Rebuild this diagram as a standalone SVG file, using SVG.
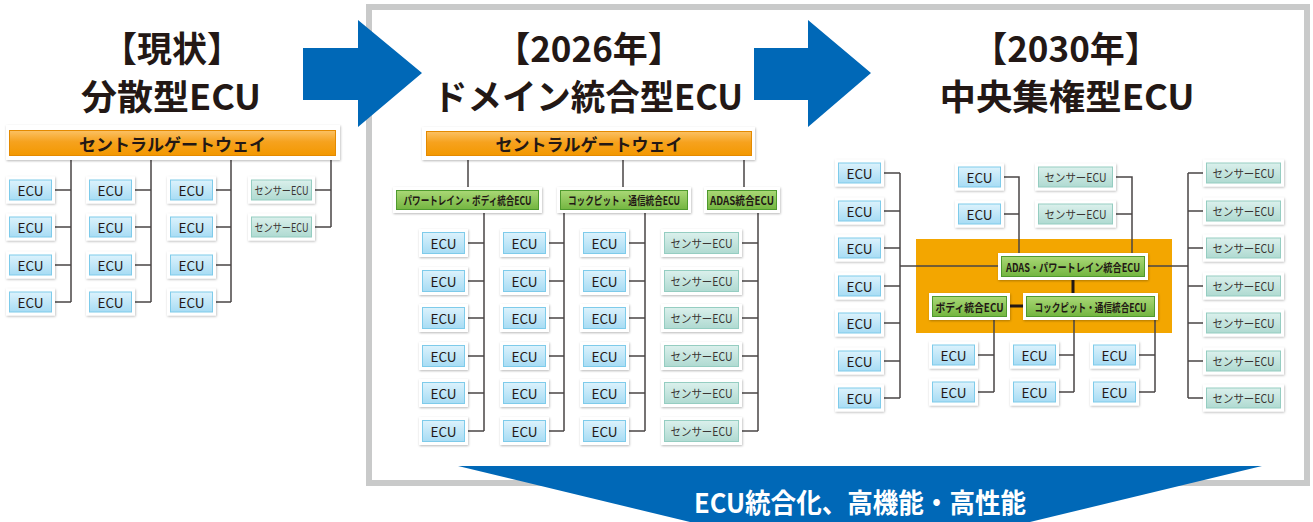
<svg xmlns="http://www.w3.org/2000/svg" width="1313" height="522" viewBox="0 0 1313 522">
<defs>
<linearGradient id="gB" x1="0" y1="0" x2="0" y2="1"><stop offset="0" stop-color="#dcf2fc"/><stop offset="1" stop-color="#a7dcf4"/></linearGradient>
<linearGradient id="gS" x1="0" y1="0" x2="0" y2="1"><stop offset="0" stop-color="#dbf0ec"/><stop offset="1" stop-color="#afdad1"/></linearGradient>
<linearGradient id="gG" x1="0" y1="0" x2="0" y2="1"><stop offset="0" stop-color="#aad876"/><stop offset="1" stop-color="#73b540"/></linearGradient>
<linearGradient id="gO" x1="0" y1="0" x2="0" y2="1"><stop offset="0" stop-color="#fbc164"/><stop offset="0.45" stop-color="#f6a21e"/><stop offset="1" stop-color="#f39800"/></linearGradient>
<filter id="sh" x="-10%" y="-25%" width="125%" height="160%"><feDropShadow dx="0.6" dy="1" stdDeviation="0.9" flood-color="#000" flood-opacity="0.28"/></filter>
</defs>
<style>
.o{fill:#fff;filter:url(#sh)}
.b{fill:url(#gB);stroke:#7ecbea;stroke-width:1}
.s{fill:url(#gS);stroke:#95cdc1;stroke-width:1}
.g{fill:url(#gG);stroke:#4f9a2e;stroke-width:1}
.or{fill:url(#gO);stroke:#e48a00;stroke-width:1}
.t{font-family:"Noto Sans CJK JP","Noto Sans",sans-serif;font-size:13.5px;fill:#231815;text-anchor:middle;dominant-baseline:central}
.ts{font-family:"Noto Sans CJK JP",sans-serif;font-size:11.5px;fill:#3a3533;text-anchor:middle;dominant-baseline:central}
.tg{font-family:"Noto Sans CJK JP",sans-serif;font-size:11.5px;font-weight:bold;fill:#231815;text-anchor:middle;dominant-baseline:central}
.tw{font-family:"Noto Sans CJK JP",sans-serif;font-size:17px;font-weight:bold;fill:#231815;text-anchor:middle;dominant-baseline:central}
.ti{font-family:"Noto Sans CJK JP",sans-serif;font-size:35px;font-weight:bold;fill:#231815;text-anchor:middle}
.ln{fill:none;stroke:#4a4546;stroke-width:1.5}
.lk{fill:none;stroke:#231815;stroke-width:3}
.ar{fill:#0068b7}
</style>

<!-- frame -->
<rect x="369" y="7" width="938" height="476" fill="#fff" stroke="#c9caca" stroke-width="6"/>

<!-- titles -->
<g id="title-now">
<text class="ti" x="172" y="62">【現状】</text>
<text class="ti" x="171" y="110" textLength="180" lengthAdjust="spacingAndGlyphs">分散型ECU</text>
</g>
<g id="title-2026">
<text class="ti" x="589" y="62">【2026年】</text>
<text class="ti" x="588" y="110" textLength="310" lengthAdjust="spacingAndGlyphs">ドメイン統合型ECU</text>
</g>
<g id="title-2030">
<text class="ti" x="1066" y="62">【2030年】</text>
<text class="ti" x="1067" y="110" textLength="255" lengthAdjust="spacingAndGlyphs">中央集権型ECU</text>
</g>

<!-- big arrows -->
<g id="arrow1"><polygon class="ar" points="303,48 358,48 358,20 422,73 358,127 358,100 303,100"/></g>
<g id="arrow2"><polygon class="ar" points="754,48 808,48 808,20 871,73 808,127 808,100 754,100"/></g>
<g id="arrow-bottom">
<polygon class="ar" points="458,466 1262,466 860,563"/>
<text x="860" y="513" font-family="Noto Sans CJK JP,sans-serif" font-size="27" font-weight="bold" fill="#fff" text-anchor="middle" textLength="332" lengthAdjust="spacingAndGlyphs">ECU統合化、高機能・高性能</text>
</g>

<!-- orange integration area -->
<rect id="r-area" x="916" y="239" width="256" height="94" fill="#f3a600"/>

<!-- connectors -->
<g id="connectors">
<!-- left -->
<path class="ln" d="M71,160V302M151,160V302M231,160V302M331,160V227"/>
<path class="ln" d="M55,190H71M55,227H71M55,265H71M55,302H71M135,190H151M135,227H151M135,265H151M135,302H151M216,190H231M216,227H231M216,265H231M216,302H231M315,190H331M315,227H331"/>
<!-- middle -->
<path class="ln" d="M468,160V187M623,160V187M744,160V187"/>
<path class="ln" d="M484,213V431M564,213V431M645,213V431M758,213V431"/>
<path class="ln" d="M468,243H484M468,281H484M468,318H484M468,356H484M468,393H484M468,431H484"/>
<path class="ln" d="M549,243H564M549,281H564M549,318H564M549,356H564M549,393H564M549,431H564"/>
<path class="ln" d="M629,243H645M629,281H645M629,318H645M629,356H645M629,393H645M629,431H645"/>
<path class="ln" d="M742,243H758M742,281H758M742,318H758M742,356H758M742,393H758M742,431H758"/>
<!-- right -->
<path class="ln" d="M900,173V398M1188,173V398M900,266H1188"/>
<path class="ln" d="M884,173H900M884,211H900M884,248H900M884,286H900M884,323H900M884,361H900M884,398H900"/>
<path class="ln" d="M1188,173H1203M1188,211H1203M1188,248H1203M1188,286H1203M1188,323H1203M1188,361H1203M1188,398H1203"/>
<path class="ln" d="M1004,177H1019V253M1004,214H1019M1116,177H1132V253M1116,214H1132"/>
<path class="ln" d="M994,320V392M978,355H994M978,392H994M1074,320V392M1059,355H1074M1059,392H1074M1155,320V392M1139,355H1155M1139,392H1155"/>
<path class="lk" d="M1073,280V293M1010,306H1023"/>
</g>

<!-- LEFT: current -->
<g id="l-gw"><rect class="o" x="6" y="125" width="334" height="35"/><rect class="or" x="9.5" y="130.5" width="326" height="25"/><text class="tw" x="172.5" y="143">セントラルゲートウェイ</text></g>

<g id="l-e11"><rect class="o" x="6" y="176.5" width="49" height="27"/><rect class="b" x="9.5" y="180" width="42" height="20"/><text class="t" x="30.5" y="190">ECU</text></g>
<g id="l-e12"><rect class="o" x="6" y="213.5" width="49" height="27"/><rect class="b" x="9.5" y="217" width="42" height="20"/><text class="t" x="30.5" y="227">ECU</text></g>
<g id="l-e13"><rect class="o" x="6" y="251.5" width="49" height="27"/><rect class="b" x="9.5" y="255" width="42" height="20"/><text class="t" x="30.5" y="265">ECU</text></g>
<g id="l-e14"><rect class="o" x="6" y="288.5" width="49" height="27"/><rect class="b" x="9.5" y="292" width="42" height="20"/><text class="t" x="30.5" y="302">ECU</text></g>

<g id="l-e21"><rect class="o" x="86" y="176.5" width="49" height="27"/><rect class="b" x="89.5" y="180" width="42" height="20"/><text class="t" x="110.5" y="190">ECU</text></g>
<g id="l-e22"><rect class="o" x="86" y="213.5" width="49" height="27"/><rect class="b" x="89.5" y="217" width="42" height="20"/><text class="t" x="110.5" y="227">ECU</text></g>
<g id="l-e23"><rect class="o" x="86" y="251.5" width="49" height="27"/><rect class="b" x="89.5" y="255" width="42" height="20"/><text class="t" x="110.5" y="265">ECU</text></g>
<g id="l-e24"><rect class="o" x="86" y="288.5" width="49" height="27"/><rect class="b" x="89.5" y="292" width="42" height="20"/><text class="t" x="110.5" y="302">ECU</text></g>

<g id="l-e31"><rect class="o" x="167" y="176.5" width="49" height="27"/><rect class="b" x="170.5" y="180" width="42" height="20"/><text class="t" x="191.5" y="190">ECU</text></g>
<g id="l-e32"><rect class="o" x="167" y="213.5" width="49" height="27"/><rect class="b" x="170.5" y="217" width="42" height="20"/><text class="t" x="191.5" y="227">ECU</text></g>
<g id="l-e33"><rect class="o" x="167" y="251.5" width="49" height="27"/><rect class="b" x="170.5" y="255" width="42" height="20"/><text class="t" x="191.5" y="265">ECU</text></g>
<g id="l-e34"><rect class="o" x="167" y="288.5" width="49" height="27"/><rect class="b" x="170.5" y="292" width="42" height="20"/><text class="t" x="191.5" y="302">ECU</text></g>

<g id="l-s1"><rect class="o" x="248" y="176.5" width="67" height="27"/><rect class="s" x="251.5" y="180" width="60" height="20"/><text class="ts" x="281.5" y="190" textLength="54" lengthAdjust="spacingAndGlyphs">センサーECU</text></g>
<g id="l-s2"><rect class="o" x="248" y="213.5" width="67" height="27"/><rect class="s" x="251.5" y="217" width="60" height="20"/><text class="ts" x="281.5" y="227" textLength="54" lengthAdjust="spacingAndGlyphs">センサーECU</text></g>

<!-- MIDDLE: 2026 -->
<g id="m-gw"><rect class="o" x="422" y="127" width="333" height="33"/><rect class="or" x="426.5" y="131.5" width="325" height="24"/><text class="tw" x="589" y="143.5">セントラルゲートウェイ</text></g>
<g id="m-d1"><rect class="o" x="393" y="187" width="149" height="26"/><rect class="g" x="396.5" y="190.5" width="142" height="19"/><text class="tg" x="467.5" y="200" textLength="128" lengthAdjust="spacingAndGlyphs">パワートレイン・ボディ統合ECU</text></g>
<g id="m-d2"><rect class="o" x="557" y="187" width="134" height="26"/><rect class="g" x="560.5" y="190.5" width="127" height="19"/><text class="tg" x="624" y="200" textLength="112" lengthAdjust="spacingAndGlyphs">コックピット・通信統合ECU</text></g>
<g id="m-d3"><rect class="o" x="704" y="187" width="76" height="26"/><rect class="g" x="707.5" y="190.5" width="69" height="19"/><text class="tg" x="742" y="200" textLength="64" lengthAdjust="spacingAndGlyphs">ADAS統合ECU</text></g>

<g id="m-e11"><rect class="o" x="419" y="229" width="49" height="28"/><rect class="b" x="422.5" y="232.5" width="42" height="21"/><text class="t" x="443.5" y="243">ECU</text></g>
<g id="m-e12"><rect class="o" x="419" y="267" width="49" height="28"/><rect class="b" x="422.5" y="270.5" width="42" height="21"/><text class="t" x="443.5" y="281">ECU</text></g>
<g id="m-e13"><rect class="o" x="419" y="304" width="49" height="28"/><rect class="b" x="422.5" y="307.5" width="42" height="21"/><text class="t" x="443.5" y="318">ECU</text></g>
<g id="m-e14"><rect class="o" x="419" y="342" width="49" height="28"/><rect class="b" x="422.5" y="345.5" width="42" height="21"/><text class="t" x="443.5" y="356">ECU</text></g>
<g id="m-e15"><rect class="o" x="419" y="379" width="49" height="28"/><rect class="b" x="422.5" y="382.5" width="42" height="21"/><text class="t" x="443.5" y="393">ECU</text></g>
<g id="m-e16"><rect class="o" x="419" y="417" width="49" height="28"/><rect class="b" x="422.5" y="420.5" width="42" height="21"/><text class="t" x="443.5" y="431">ECU</text></g>

<g id="m-e21"><rect class="o" x="500" y="229" width="49" height="28"/><rect class="b" x="503.5" y="232.5" width="42" height="21"/><text class="t" x="524.5" y="243">ECU</text></g>
<g id="m-e22"><rect class="o" x="500" y="267" width="49" height="28"/><rect class="b" x="503.5" y="270.5" width="42" height="21"/><text class="t" x="524.5" y="281">ECU</text></g>
<g id="m-e23"><rect class="o" x="500" y="304" width="49" height="28"/><rect class="b" x="503.5" y="307.5" width="42" height="21"/><text class="t" x="524.5" y="318">ECU</text></g>
<g id="m-e24"><rect class="o" x="500" y="342" width="49" height="28"/><rect class="b" x="503.5" y="345.5" width="42" height="21"/><text class="t" x="524.5" y="356">ECU</text></g>
<g id="m-e25"><rect class="o" x="500" y="379" width="49" height="28"/><rect class="b" x="503.5" y="382.5" width="42" height="21"/><text class="t" x="524.5" y="393">ECU</text></g>
<g id="m-e26"><rect class="o" x="500" y="417" width="49" height="28"/><rect class="b" x="503.5" y="420.5" width="42" height="21"/><text class="t" x="524.5" y="431">ECU</text></g>

<g id="m-e31"><rect class="o" x="580" y="229" width="49" height="28"/><rect class="b" x="583.5" y="232.5" width="42" height="21"/><text class="t" x="604.5" y="243">ECU</text></g>
<g id="m-e32"><rect class="o" x="580" y="267" width="49" height="28"/><rect class="b" x="583.5" y="270.5" width="42" height="21"/><text class="t" x="604.5" y="281">ECU</text></g>
<g id="m-e33"><rect class="o" x="580" y="304" width="49" height="28"/><rect class="b" x="583.5" y="307.5" width="42" height="21"/><text class="t" x="604.5" y="318">ECU</text></g>
<g id="m-e34"><rect class="o" x="580" y="342" width="49" height="28"/><rect class="b" x="583.5" y="345.5" width="42" height="21"/><text class="t" x="604.5" y="356">ECU</text></g>
<g id="m-e35"><rect class="o" x="580" y="379" width="49" height="28"/><rect class="b" x="583.5" y="382.5" width="42" height="21"/><text class="t" x="604.5" y="393">ECU</text></g>
<g id="m-e36"><rect class="o" x="580" y="417" width="49" height="28"/><rect class="b" x="583.5" y="420.5" width="42" height="21"/><text class="t" x="604.5" y="431">ECU</text></g>

<g id="m-s1"><rect class="o" x="661" y="229" width="81" height="28"/><rect class="s" x="664.5" y="232.5" width="74" height="21"/><text class="ts" x="701.5" y="243" textLength="62" lengthAdjust="spacingAndGlyphs">センサーECU</text></g>
<g id="m-s2"><rect class="o" x="661" y="267" width="81" height="28"/><rect class="s" x="664.5" y="270.5" width="74" height="21"/><text class="ts" x="701.5" y="281" textLength="62" lengthAdjust="spacingAndGlyphs">センサーECU</text></g>
<g id="m-s3"><rect class="o" x="661" y="304" width="81" height="28"/><rect class="s" x="664.5" y="307.5" width="74" height="21"/><text class="ts" x="701.5" y="318" textLength="62" lengthAdjust="spacingAndGlyphs">センサーECU</text></g>
<g id="m-s4"><rect class="o" x="661" y="342" width="81" height="28"/><rect class="s" x="664.5" y="345.5" width="74" height="21"/><text class="ts" x="701.5" y="356" textLength="62" lengthAdjust="spacingAndGlyphs">センサーECU</text></g>
<g id="m-s5"><rect class="o" x="661" y="379" width="81" height="28"/><rect class="s" x="664.5" y="382.5" width="74" height="21"/><text class="ts" x="701.5" y="393" textLength="62" lengthAdjust="spacingAndGlyphs">センサーECU</text></g>
<g id="m-s6"><rect class="o" x="661" y="417" width="81" height="28"/><rect class="s" x="664.5" y="420.5" width="74" height="21"/><text class="ts" x="701.5" y="431" textLength="62" lengthAdjust="spacingAndGlyphs">センサーECU</text></g>

<!-- RIGHT: 2030 -->
<g id="r-adas"><rect class="o" x="998" y="253" width="150" height="27"/><rect class="g" x="1001.5" y="256.5" width="143" height="20"/><text class="tg" x="1073" y="266.5" textLength="134" lengthAdjust="spacingAndGlyphs">ADAS・パワートレイン統合ECU</text></g>
<g id="r-body"><rect class="o" x="929" y="293" width="81" height="27"/><rect class="g" x="932.5" y="296.5" width="74" height="20"/><text class="tg" x="969.5" y="306.5" textLength="68" lengthAdjust="spacingAndGlyphs">ボディ統合ECU</text></g>
<g id="r-cockpit"><rect class="o" x="1023" y="293" width="135" height="27"/><rect class="g" x="1026.5" y="296.5" width="128" height="20"/><text class="tg" x="1090.5" y="306.5" textLength="112" lengthAdjust="spacingAndGlyphs">コックピット・通信統合ECU</text></g>

<g id="r-l1"><rect class="o" x="835" y="159.5" width="49" height="27"/><rect class="b" x="838.5" y="163" width="42" height="20"/><text class="t" x="859.5" y="173">ECU</text></g>
<g id="r-l2"><rect class="o" x="835" y="197.5" width="49" height="27"/><rect class="b" x="838.5" y="201" width="42" height="20"/><text class="t" x="859.5" y="211">ECU</text></g>
<g id="r-l3"><rect class="o" x="835" y="234.5" width="49" height="27"/><rect class="b" x="838.5" y="238" width="42" height="20"/><text class="t" x="859.5" y="248">ECU</text></g>
<g id="r-l4"><rect class="o" x="835" y="272.5" width="49" height="27"/><rect class="b" x="838.5" y="276" width="42" height="20"/><text class="t" x="859.5" y="286">ECU</text></g>
<g id="r-l5"><rect class="o" x="835" y="309.5" width="49" height="27"/><rect class="b" x="838.5" y="313" width="42" height="20"/><text class="t" x="859.5" y="323">ECU</text></g>
<g id="r-l6"><rect class="o" x="835" y="347.5" width="49" height="27"/><rect class="b" x="838.5" y="351" width="42" height="20"/><text class="t" x="859.5" y="361">ECU</text></g>
<g id="r-l7"><rect class="o" x="835" y="384.5" width="49" height="27"/><rect class="b" x="838.5" y="388" width="42" height="20"/><text class="t" x="859.5" y="398">ECU</text></g>

<g id="r-r1"><rect class="o" x="1203" y="159.5" width="81" height="27"/><rect class="s" x="1206.5" y="163" width="74" height="20"/><text class="ts" x="1243.5" y="173" textLength="62" lengthAdjust="spacingAndGlyphs">センサーECU</text></g>
<g id="r-r2"><rect class="o" x="1203" y="197.5" width="81" height="27"/><rect class="s" x="1206.5" y="201" width="74" height="20"/><text class="ts" x="1243.5" y="211" textLength="62" lengthAdjust="spacingAndGlyphs">センサーECU</text></g>
<g id="r-r3"><rect class="o" x="1203" y="234.5" width="81" height="27"/><rect class="s" x="1206.5" y="238" width="74" height="20"/><text class="ts" x="1243.5" y="248" textLength="62" lengthAdjust="spacingAndGlyphs">センサーECU</text></g>
<g id="r-r4"><rect class="o" x="1203" y="272.5" width="81" height="27"/><rect class="s" x="1206.5" y="276" width="74" height="20"/><text class="ts" x="1243.5" y="286" textLength="62" lengthAdjust="spacingAndGlyphs">センサーECU</text></g>
<g id="r-r5"><rect class="o" x="1203" y="309.5" width="81" height="27"/><rect class="s" x="1206.5" y="313" width="74" height="20"/><text class="ts" x="1243.5" y="323" textLength="62" lengthAdjust="spacingAndGlyphs">センサーECU</text></g>
<g id="r-r6"><rect class="o" x="1203" y="347.5" width="81" height="27"/><rect class="s" x="1206.5" y="351" width="74" height="20"/><text class="ts" x="1243.5" y="361" textLength="62" lengthAdjust="spacingAndGlyphs">センサーECU</text></g>
<g id="r-r7"><rect class="o" x="1203" y="384.5" width="81" height="27"/><rect class="s" x="1206.5" y="388" width="74" height="20"/><text class="ts" x="1243.5" y="398" textLength="62" lengthAdjust="spacingAndGlyphs">センサーECU</text></g>

<g id="r-te1"><rect class="o" x="955" y="163.5" width="49" height="27"/><rect class="b" x="958.5" y="167" width="42" height="20"/><text class="t" x="979.5" y="177">ECU</text></g>
<g id="r-te2"><rect class="o" x="955" y="200.5" width="49" height="27"/><rect class="b" x="958.5" y="204" width="42" height="20"/><text class="t" x="979.5" y="214">ECU</text></g>
<g id="r-ts1"><rect class="o" x="1035" y="163.5" width="81" height="27"/><rect class="s" x="1038.5" y="167" width="74" height="20"/><text class="ts" x="1075.5" y="177" textLength="62" lengthAdjust="spacingAndGlyphs">センサーECU</text></g>
<g id="r-ts2"><rect class="o" x="1035" y="200.5" width="81" height="27"/><rect class="s" x="1038.5" y="204" width="74" height="20"/><text class="ts" x="1075.5" y="214" textLength="62" lengthAdjust="spacingAndGlyphs">センサーECU</text></g>

<g id="r-b11"><rect class="o" x="929" y="341.5" width="49" height="27"/><rect class="b" x="932.5" y="345" width="42" height="20"/><text class="t" x="953.5" y="355">ECU</text></g>
<g id="r-b12"><rect class="o" x="929" y="378.5" width="49" height="27"/><rect class="b" x="932.5" y="382" width="42" height="20"/><text class="t" x="953.5" y="392">ECU</text></g>
<g id="r-b21"><rect class="o" x="1010" y="341.5" width="49" height="27"/><rect class="b" x="1013.5" y="345" width="42" height="20"/><text class="t" x="1034.5" y="355">ECU</text></g>
<g id="r-b22"><rect class="o" x="1010" y="378.5" width="49" height="27"/><rect class="b" x="1013.5" y="382" width="42" height="20"/><text class="t" x="1034.5" y="392">ECU</text></g>
<g id="r-b31"><rect class="o" x="1090" y="341.5" width="49" height="27"/><rect class="b" x="1093.5" y="345" width="42" height="20"/><text class="t" x="1114.5" y="355">ECU</text></g>
<g id="r-b32"><rect class="o" x="1090" y="378.5" width="49" height="27"/><rect class="b" x="1093.5" y="382" width="42" height="20"/><text class="t" x="1114.5" y="392">ECU</text></g>
</svg>
